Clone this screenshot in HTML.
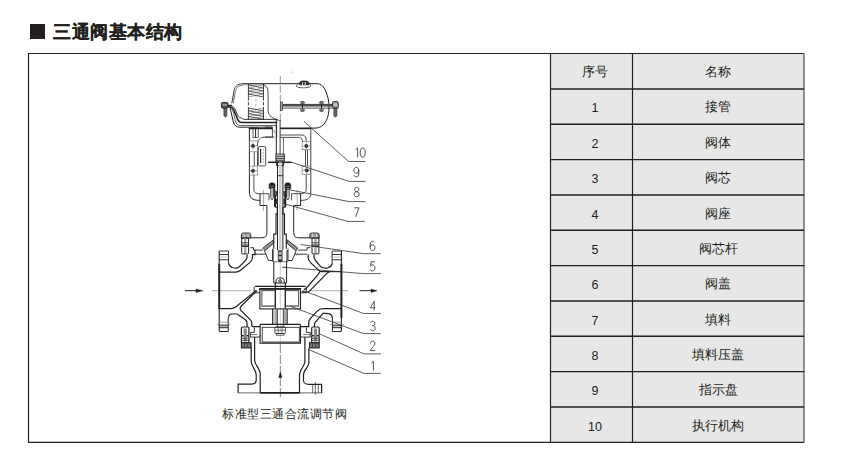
<!DOCTYPE html>
<html><head><meta charset="utf-8">
<style>
html,body{margin:0;padding:0;background:#fff;width:845px;height:475px;overflow:hidden;font-family:"Liberation Sans",sans-serif;}
.t{position:absolute;white-space:nowrap;color:#231f20;}
#title{left:53px;top:20px;font-size:18px;font-weight:bold;-webkit-text-stroke:0.2px #231f20;letter-spacing:0.55px;}
#sq{position:absolute;left:30px;top:24px;width:15px;height:15px;background:#231f20;}
.c1,.c2{position:absolute;font-size:13px;color:#231f20;text-align:center;line-height:35px;margin-top:1px;}
.n{font-size:12.5px;margin-top:2.5px;}
.c1{left:555px;width:80px;}
.c2{left:632px;width:172px;}
svg{position:absolute;left:0;top:0;}
</style></head><body>
<div id="sq"></div>
<div class="t" id="title">三通阀基本结构</div>
<svg width="845" height="475" viewBox="0 0 845 475">
  <rect x="551" y="54" width="253" height="388" fill="#e7e7e7"/>
  <g stroke="#231f20" stroke-width="1.2" fill="none">
    <path d="M804 442.3 H28.5 V53.5 H804"/>
    <path d="M804 53.5 V442.3" stroke="#6e6e6e" stroke-width="1.5"/>
    <path d="M550.5 53.5 V442.5 M632.5 53.5 V442.5"/>
    <path d="M550.5 88.94 H804 M550.5 124.28 H804 M550.5 159.62 H804 M550.5 194.96 H804 M550.5 230.3 H804 M550.5 265.64 H804 M550.5 300.98 H804 M550.5 336.32 H804 M550.5 371.66 H804 M550.5 407.0 H804" stroke-width="1.4"/>
  </g>
</svg>
<div class="c1" style="top:53px">序号</div><div class="c2" style="top:53px">名称</div>
<div class="c1 n" style="top:88px">1</div><div class="c2" style="top:88px">接管</div>
<div class="c1 n" style="top:124px">2</div><div class="c2" style="top:124px">阀体</div>
<div class="c1 n" style="top:159px">3</div><div class="c2" style="top:159px">阀芯</div>
<div class="c1 n" style="top:195px">4</div><div class="c2" style="top:195px">阀座</div>
<div class="c1 n" style="top:230px">5</div><div class="c2" style="top:230px">阀芯杆</div>
<div class="c1 n" style="top:265px">6</div><div class="c2" style="top:265px">阀盖</div>
<div class="c1 n" style="top:301px">7</div><div class="c2" style="top:301px">填料</div>
<div class="c1 n" style="top:336px">8</div><div class="c2" style="top:336px">填料压盖</div>
<div class="c1 n" style="top:371px">9</div><div class="c2" style="top:371px">指示盘</div>
<div class="c1 n" style="top:407px">10</div><div class="c2" style="top:407px">执行机构</div>
<div class="t" style="left:222px;top:406px;font-size:12px;letter-spacing:0.55px;">标准型三通合流调节阀</div>
<!--DG--><svg id="dg" width="845" height="475" viewBox="0 0 845 475" style="font-family:'Liberation Sans',sans-serif">
<line x1="280.3" y1="76" x2="280.3" y2="121" stroke="#666" stroke-width="0.7" stroke-dasharray="7 2.5"/>
<line x1="212" y1="290.6" x2="251" y2="290.6" stroke="#bdbdbd" stroke-width="1.1" />
<line x1="309" y1="290.6" x2="348" y2="290.6" stroke="#bdbdbd" stroke-width="1.1" />
<line x1="280.3" y1="262" x2="280.3" y2="345" stroke="#aaa" stroke-width="0.6" />
<line x1="280.3" y1="344" x2="280.3" y2="398" stroke="#666" stroke-width="0.8" stroke-dasharray="9 2"/>
<circle cx="291.3" cy="72" r="0.5" fill="#888"/>
<line x1="185" y1="290.7" x2="198" y2="290.7" stroke="#231f20" stroke-width="1.0" />
<path d="M196 288.9 L203 290.7 L196 292.5 Z" stroke="#231f20" stroke-width="0.4" fill="#231f20" />
<line x1="359.5" y1="290.7" x2="372" y2="290.7" stroke="#231f20" stroke-width="1.0" />
<path d="M371 288.9 L377 290.7 L371 292.5 Z" stroke="#231f20" stroke-width="0.4" fill="#231f20" />
<path d="M278.6 377.5 L280.3 372 L282.0 377.5 Z" stroke="#231f20" stroke-width="0.4" fill="#231f20" />
<path d="M242.8 83.7 H317.8 C323.5 84 326.8 92 328.4 100 C329.2 105 329.3 110 328 116 C326.2 123 322 128.1 315 128.1 H280.3" stroke="#231f20" stroke-width="1.0" fill="none" />
<path d="M242.8 84.8 H263.5" stroke="#666" stroke-width="0.6" fill="none" />
<path d="M242.8 83.7 C237 84 234.3 87 233.8 92 L231.8 103.3" stroke="#231f20" stroke-width="0.9" fill="none" />
<path d="M243 85.1 C238.5 85.5 235.8 88 235.2 92.5 L233.3 103.3" stroke="#231f20" stroke-width="0.6" fill="none" />
<path d="M221 105.4 H232" stroke="#231f20" stroke-width="1.2" fill="none" />
<rect x="221.4" y="102.4" width="6.6" height="5.8" rx="1.2" stroke="#231f20" stroke-width="0.9" fill="#555"/>
<path d="M222.3 104.9 H227" stroke="#ddd" stroke-width="0.8" fill="none" />
<path d="M223.9 108.2 V115.8 L225.4 117.3 L226.9 115.8 V108.2 Z" stroke="#231f20" stroke-width="0.6" fill="#666" />
<path d="M228 105.5 C231.5 105.5 233.5 106.5 234.8 108.5 L237.3 114.4 C238 116.5 239 117.7 240.3 117.7 C241.5 117.7 242 118.5 243 119 C243.5 119.3 244 119.4 244.5 119.4 H277.3" stroke="#231f20" stroke-width="0.9" fill="none" />
<path d="M228 106.8 C231 107 232.8 108 233.8 110 L236.5 116.5 C237.5 119.8 239 122.6 242 122.6 H277.3" stroke="#231f20" stroke-width="1.5" fill="none" />
<path d="M229.5 107.8 C231.5 108.3 232.3 109.5 233 111 L235.6 121.5 C236.4 124.3 238 125.5 240.3 125.5 H276.6" stroke="#231f20" stroke-width="0.7" fill="none" />
<path d="M230.2 108.5 L233.3 121.8 C234.2 125.5 236.5 127.2 239.4 127.2 H272.4" stroke="#231f20" stroke-width="1.0" fill="none" />
<path d="M248.4 84 V97.5 M263.5 84 V97.5 M248.4 107 V119.5 M263.5 107 V119.5" stroke="#231f20" stroke-width="0.85" fill="none" />
<path d="M248.4 97.5 V107 M263.5 97.5 V107" stroke="#231f20" stroke-width="0.9" fill="none" stroke-dasharray="3 1.8"/>
<path d="M255.9 84 V119" stroke="#999" stroke-width="0.7" fill="none" stroke-dasharray="2.5 2.5"/>
<path d="M248.4 85.0 L263.5 88.0" stroke="#231f20" stroke-width="0.75" fill="none" />
<path d="M248.4 88.0 L263.5 85.0" stroke="#555" stroke-width="0.5" fill="none" />
<path d="M248.4 88.0 L263.5 91.0" stroke="#231f20" stroke-width="0.75" fill="none" />
<path d="M248.4 91.0 L263.5 88.0" stroke="#555" stroke-width="0.5" fill="none" />
<path d="M248.4 91.0 L263.5 94.0" stroke="#231f20" stroke-width="0.75" fill="none" />
<path d="M248.4 94.0 L263.5 91.0" stroke="#555" stroke-width="0.5" fill="none" />
<path d="M248.4 94.0 L263.5 97.0" stroke="#231f20" stroke-width="0.75" fill="none" />
<path d="M248.4 97.0 L263.5 94.0" stroke="#555" stroke-width="0.5" fill="none" />
<path d="M248.4 108.0 L263.5 110.8" stroke="#231f20" stroke-width="0.75" fill="none" />
<path d="M248.4 110.8 L263.5 108.0" stroke="#555" stroke-width="0.5" fill="none" />
<path d="M248.4 110.8 L263.5 113.6" stroke="#231f20" stroke-width="0.75" fill="none" />
<path d="M248.4 113.6 L263.5 110.8" stroke="#555" stroke-width="0.5" fill="none" />
<path d="M248.4 113.6 L263.5 116.39999999999999" stroke="#231f20" stroke-width="0.75" fill="none" />
<path d="M248.4 116.39999999999999 L263.5 113.6" stroke="#555" stroke-width="0.5" fill="none" />
<path d="M248.4 116.4 L263.5 119.2" stroke="#231f20" stroke-width="0.75" fill="none" />
<path d="M248.4 119.2 L263.5 116.4" stroke="#555" stroke-width="0.5" fill="none" />
<path d="M263.5 84.5 C267 86 268.1 89 268.1 93.2 L268.1 110.8 C268.1 114.5 271 117 274 118.5 C276.5 119.6 278 120 279.4 120.8" stroke="#231f20" stroke-width="0.8" fill="none" />
<path d="M272.4 127.1 V137.1 M276.6 125 V137.1 M265 127.1 H272.4 M265 137.1 H272.4" stroke="#231f20" stroke-width="0.8" fill="none" />
<path d="M273.5 130 L275 133" stroke="#231f20" stroke-width="0.5" fill="none" />
<rect x="280.8" y="103.9" width="57.8" height="2.6" rx="0" stroke="#231f20" stroke-width="0" fill="#333"/>
<path d="M280.8 105.1 H338.6" stroke="#999" stroke-width="0.5" fill="none" />
<path d="M280.8 108.1 H338.6" stroke="#231f20" stroke-width="0.8" fill="none" />
<rect x="280.3" y="102" width="2.4" height="8.6" rx="0" stroke="#231f20" stroke-width="0.6" fill="#aaa"/>
<path d="M302.5 101.3 V111.8" stroke="#231f20" stroke-width="0.9" fill="none" />
<ellipse cx="302.5" cy="102.6" rx="2.2" ry="1.3" fill="#777" stroke="#333" stroke-width="0.5"/>
<ellipse cx="302.5" cy="110.3" rx="2.2" ry="1.3" fill="#777" stroke="#333" stroke-width="0.5"/>
<path d="M321.5 101.3 V111.8" stroke="#231f20" stroke-width="0.9" fill="none" />
<ellipse cx="321.5" cy="102.6" rx="2.2" ry="1.3" fill="#777" stroke="#333" stroke-width="0.5"/>
<ellipse cx="321.5" cy="110.3" rx="2.2" ry="1.3" fill="#777" stroke="#333" stroke-width="0.5"/>
<rect x="332.6" y="101.6" width="5.6" height="6.4" rx="1.2" stroke="#231f20" stroke-width="0.9" fill="#aaa"/>
<path d="M333.4 104.9 H337.4" stroke="#ddd" stroke-width="0.8" fill="none" />
<path d="M333.9 108.2 V115.8 L335.4 117.3 L336.9 115.8 V108.2 Z" stroke="#231f20" stroke-width="0.6" fill="#666" />
<path d="M296.2 86.3 C297 84 299 83.5 300.5 83.3 H307.5 C309 83.5 310.5 84.5 310.8 86.3 C309 88.3 298 88.3 296.2 86.3 Z" stroke="#231f20" stroke-width="0.7" fill="#fff" />
<path d="M299.8 84.8 V82.5 C300 81.4 301.5 81 304 81 C306.5 81 308.3 81.4 308.8 82.5 V84.8 Z" stroke="#231f20" stroke-width="0.8" fill="#333" />
<path d="M302.6 82 V85.5 M305.2 82 V85.5" stroke="#fff" stroke-width="0.8" fill="none" />
<rect x="253" y="127.8" width="5.2" height="9.7" rx="0" stroke="#231f20" stroke-width="0.7" fill="none"/>
<path d="M255.6 128 V137.5" stroke="#231f20" stroke-width="1.0" fill="none" />
<path d="M250 127.8 H253" stroke="#231f20" stroke-width="0.7" fill="none" />
<path d="M248.7 128.6 H272.4" stroke="#231f20" stroke-width="1.3" fill="none" />
<path d="M280.3 128.5 H311.2" stroke="#231f20" stroke-width="1.4" fill="none" />
<path d="M249.4 128.4 V193.2 C249.4 197.5 253 200.3 258.2 200.3 H260" stroke="#231f20" stroke-width="1.0" fill="none" />
<path d="M254.3 151.8 V166.1 M257.6 151.8 V166.1" stroke="#231f20" stroke-width="0.8" fill="none" />
<path d="M253.9 175 V189.9 C253.9 192 255.5 193.7 259.6 193.7 H261" stroke="#231f20" stroke-width="0.8" fill="none" />
<path d="M310.8 128.4 V193.2 C310.8 197.5 307.5 200.3 302.7 200.3 H300" stroke="#444" stroke-width="1.0" fill="none" />
<path d="M305.5 149.7 V166 M307.5 149.7 V166" stroke="#231f20" stroke-width="0.8" fill="none" />
<path d="M306.2 175 V189.9 C306.2 192 304.5 193.7 299.8 193.7 H299" stroke="#231f20" stroke-width="0.8" fill="none" />
<path d="M257.6 146 V145 C257.6 140 260 137.1 264.4 137.1 H274.4" stroke="#231f20" stroke-width="0.8" fill="none" />
<path d="M280.3 135 H302.6 C304.8 135 306.3 137.5 306.3 140.8" stroke="#231f20" stroke-width="0.8" fill="none" />
<path d="M280.5 137.4 H299.5 C301.3 137.4 302.6 139.5 302.6 142" stroke="#231f20" stroke-width="0.8" fill="none" />
<rect x="249.4" y="140.9" width="8.200000000000017" height="10.900000000000006" rx="0" stroke="#666" stroke-width="0.6" fill="none"/>
<circle cx="253" cy="145.9" r="1.9" fill="#231f20"/>
<line x1="249" y1="145.9" x2="257" y2="145.9" stroke="#555" stroke-width="0.5" />
<line x1="253" y1="141.9" x2="253" y2="149.9" stroke="#555" stroke-width="0.5" />
<rect x="249.4" y="166.1" width="8.200000000000017" height="8.900000000000006" rx="0" stroke="#666" stroke-width="0.6" fill="none"/>
<circle cx="253" cy="170.8" r="1.9" fill="#231f20"/>
<line x1="249" y1="170.8" x2="257" y2="170.8" stroke="#555" stroke-width="0.5" />
<line x1="253" y1="166.8" x2="253" y2="174.8" stroke="#555" stroke-width="0.5" />
<rect x="302.1" y="141.3" width="8.5" height="8.399999999999977" rx="0" stroke="#666" stroke-width="0.6" fill="none"/>
<circle cx="306.3" cy="146" r="1.9" fill="#231f20"/>
<line x1="302.3" y1="146" x2="310.3" y2="146" stroke="#555" stroke-width="0.5" />
<line x1="306.3" y1="142" x2="306.3" y2="150" stroke="#555" stroke-width="0.5" />
<rect x="302.1" y="166" width="8.5" height="8.599999999999994" rx="0" stroke="#666" stroke-width="0.6" fill="none"/>
<circle cx="306.8" cy="170.3" r="1.9" fill="#231f20"/>
<line x1="302.8" y1="170.3" x2="310.8" y2="170.3" stroke="#555" stroke-width="0.5" />
<line x1="306.8" y1="166.3" x2="306.8" y2="174.3" stroke="#555" stroke-width="0.5" />
<rect x="258.2" y="146.5" width="7.5" height="19.4" rx="1.5" stroke="#231f20" stroke-width="0.8" fill="none"/>
<path d="M260.6 149 V163" stroke="#231f20" stroke-width="1.1" fill="none" />
<path d="M262.6 150 H264.2 M262.6 153 H264.2 M262.6 156 H264.2 M262.6 159 H264.2 M262.6 162 H264.2" stroke="#231f20" stroke-width="0.5" fill="none" />
<path d="M276.3 120 V154" stroke="#231f20" stroke-width="1.0" fill="none" />
<path d="M280.1 120 V154" stroke="#231f20" stroke-width="0.9" fill="none" />
<path d="M283.4 137.4 V154" stroke="#555" stroke-width="0.9" fill="none" />
<rect x="275.9" y="154.1" width="8.4" height="7.9" rx="0" stroke="#231f20" stroke-width="0.9" fill="#eee"/>
<path d="M275.9 156.2 H284.3 M275.9 158.3 H284.3 M275.9 160.2 H284.3" stroke="#231f20" stroke-width="1.0" fill="none" />
<path d="M276.4 162.3 V165.6 H283.6 V162.3" stroke="#231f20" stroke-width="0.9" fill="none" />
<path d="M268.1 162.3 H291.8" stroke="#231f20" stroke-width="1.5" fill="none" />
<path d="M277.5 162.3 V250 M282.9 162.3 V250" stroke="#231f20" stroke-width="1.0" fill="none" />
<path d="M280.2 162.3 V250" stroke="#d0d0d0" stroke-width="2.6" fill="none" />
<path d="M277.1 175.7 H283.3" stroke="#231f20" stroke-width="0.9" fill="none" />
<path d="M269.1 188.5 V185 C269.1 183.6 270.3 182.8 272.05 182.8 C273.8 182.8 275.0 183.6 275.0 185 V188.5 Z" stroke="#231f20" stroke-width="0.6" fill="#222" />
<path d="M269.90000000000003 186.3 H274.20000000000005" stroke="#999" stroke-width="0.6" fill="none" />
<path d="M270.70000000000005 188.5 V197.5 L272.05 199.9 L273.40000000000003 197.5 V188.5" stroke="#231f20" stroke-width="0.8" fill="#eee" />
<path d="M272.05 189 V197" stroke="#888" stroke-width="0.8" fill="none" />
<path d="M284.9 188.5 V185 C284.9 183.6 286.09999999999997 182.8 287.84999999999997 182.8 C289.59999999999997 182.8 290.79999999999995 183.6 290.79999999999995 185 V188.5 Z" stroke="#231f20" stroke-width="0.6" fill="#222" />
<path d="M285.7 186.3 H290.0" stroke="#999" stroke-width="0.6" fill="none" />
<path d="M286.5 188.5 V197.5 L287.84999999999997 199.9 L289.2 197.5 V188.5" stroke="#231f20" stroke-width="0.8" fill="#eee" />
<path d="M287.84999999999997 189 V197" stroke="#888" stroke-width="0.8" fill="none" />
<path d="M274.7 189 V207 M285.6 189 V207" stroke="#231f20" stroke-width="1.3" fill="none" />
<rect x="275.3" y="191" width="2" height="5" rx="0" stroke="#231f20" stroke-width="0" fill="#444"/>
<rect x="283.3" y="191" width="2" height="5" rx="0" stroke="#231f20" stroke-width="0" fill="#444"/>
<rect x="275.3" y="199" width="2" height="5" rx="0" stroke="#231f20" stroke-width="0" fill="#444"/>
<rect x="283.3" y="199" width="2" height="5" rx="0" stroke="#231f20" stroke-width="0" fill="#444"/>
<path d="M260 193.7 V205.5 H266.9 V232.5 C266.9 235.8 265.5 237.8 262 237.8 H250.3" stroke="#231f20" stroke-width="1.0" fill="none" />
<path d="M261 193.7 H269 V200.3" stroke="#231f20" stroke-width="0.8" fill="none" />
<path d="M300.6 193.7 V205.5 H293.7 V232.5 C293.7 235.8 295.1 237.8 298.6 237.8 H310.3" stroke="#231f20" stroke-width="1.0" fill="none" />
<path d="M299.6 193.7 H291.6 V200.3" stroke="#231f20" stroke-width="0.8" fill="none" />
<path d="M263.4 189.9 V210.6" stroke="#555" stroke-width="0.5" fill="none" />
<path d="M297.2 189.9 V210.6" stroke="#555" stroke-width="0.5" fill="none" />
<path d="M275.6 195 V207.2 H277.3 V213.9 H276 V234.1 H273.75 V248.8" stroke="#231f20" stroke-width="1.1" fill="none" />
<path d="M284.9 195 V207.2 H282.9 V213.9 H284.5 V234.1 H286.3 V248.8" stroke="#231f20" stroke-width="1.1" fill="none" />
<path d="M273 250 V262 M287 250 V262" stroke="#231f20" stroke-width="1.0" fill="none" />
<path d="M241.4 238.1 V235 C241.4 233.8 242.20000000000002 233 243.4 233 H248.8 C250.0 233 250.8 233.8 250.8 235 V238.1 Z" stroke="#231f20" stroke-width="0.9" fill="#9a9a9a" />
<path d="M244.20000000000002 233.5 V237.6 M248.0 233.5 V237.6" stroke="#eee" stroke-width="0.8" fill="none" />
<rect x="241.7" y="238.1" width="6.9" height="8.2" rx="0" stroke="#231f20" stroke-width="1.0" fill="none"/>
<rect x="244.0" y="238.6" width="2.4" height="15" rx="0" stroke="#231f20" stroke-width="0" fill="#aaa"/>
<path d="M241.7 242.8 H248.6 M241.7 245 H248.6" stroke="#231f20" stroke-width="0.8" fill="none" />
<rect x="241.7" y="246.3" width="6.9" height="7.6" rx="1" stroke="#231f20" stroke-width="1.0" fill="none"/>
<path d="M309.8 238.1 V235 C309.8 233.8 310.6 233 311.8 233 H317.2 C318.40000000000003 233 319.2 233.8 319.2 235 V238.1 Z" stroke="#231f20" stroke-width="0.9" fill="#9a9a9a" />
<path d="M312.6 233.5 V237.6 M316.40000000000003 233.5 V237.6" stroke="#eee" stroke-width="0.8" fill="none" />
<rect x="312.0" y="238.1" width="6.9" height="8.2" rx="0" stroke="#231f20" stroke-width="1.0" fill="none"/>
<rect x="314.3" y="238.6" width="2.4" height="15" rx="0" stroke="#231f20" stroke-width="0" fill="#aaa"/>
<path d="M312.0 242.8 H318.9 M312.0 245 H318.9" stroke="#231f20" stroke-width="0.8" fill="none" />
<rect x="312.0" y="246.3" width="6.9" height="7.6" rx="1" stroke="#231f20" stroke-width="1.0" fill="none"/>
<path d="M250.3 247.7 H253.6 V250.1 H262.8" stroke="#231f20" stroke-width="0.9" fill="none" />
<path d="M253.6 254.2 H265.9" stroke="#231f20" stroke-width="0.9" fill="none" />
<path d="M264.3 250.4 L268.5 260.5 H272.6 V248.7" stroke="#231f20" stroke-width="0.9" fill="none" />
<path d="M262.8 248.1 L273.4 239.8 L273.4 243.4 L265 250.6 Z" stroke="#231f20" stroke-width="0.8" fill="#bbb" />
<path d="M263.3888888888889 247.63888888888889 L265.3888888888889 250.23888888888888" stroke="#222" stroke-width="0.5" fill="none" />
<path d="M264.56666666666666 246.71666666666667 L266.56666666666666 249.31666666666666" stroke="#222" stroke-width="0.5" fill="none" />
<path d="M265.74444444444447 245.79444444444445 L267.74444444444447 248.39444444444445" stroke="#222" stroke-width="0.5" fill="none" />
<path d="M266.9222222222222 244.8722222222222 L268.9222222222222 247.4722222222222" stroke="#222" stroke-width="0.5" fill="none" />
<path d="M268.1 243.95 L270.1 246.54999999999998" stroke="#222" stroke-width="0.5" fill="none" />
<path d="M269.27777777777777 243.02777777777777 L271.27777777777777 245.62777777777777" stroke="#222" stroke-width="0.5" fill="none" />
<path d="M270.4555555555556 242.10555555555555 L272.4555555555556 244.70555555555555" stroke="#222" stroke-width="0.5" fill="none" />
<path d="M271.6333333333333 241.18333333333334 L273.6333333333333 243.78333333333333" stroke="#222" stroke-width="0.5" fill="none" />
<path d="M272.81111111111113 240.2611111111111 L274.81111111111113 242.8611111111111" stroke="#222" stroke-width="0.5" fill="none" />
<path d="M310.3 247.7 H307.0 V250.1 H297.8" stroke="#231f20" stroke-width="0.9" fill="none" />
<path d="M307.0 254.2 H294.7" stroke="#231f20" stroke-width="0.9" fill="none" />
<path d="M296.3 250.4 L292.1 260.5 H288.0 V248.7" stroke="#231f20" stroke-width="0.9" fill="none" />
<path d="M297.8 248.1 L287.2 239.8 L287.2 243.4 L295.6 250.6 Z" stroke="#231f20" stroke-width="0.8" fill="#bbb" />
<path d="M297.21 247.63888888888889 L295.21 250.23888888888888" stroke="#222" stroke-width="0.5" fill="none" />
<path d="M296.03 246.71666666666667 L294.03 249.31666666666666" stroke="#222" stroke-width="0.5" fill="none" />
<path d="M294.86 245.79444444444445 L292.86 248.39444444444445" stroke="#222" stroke-width="0.5" fill="none" />
<path d="M293.68 244.8722222222222 L291.68 247.4722222222222" stroke="#222" stroke-width="0.5" fill="none" />
<path d="M292.5 243.95 L290.5 246.54999999999998" stroke="#222" stroke-width="0.5" fill="none" />
<path d="M291.32 243.02777777777777 L289.32 245.62777777777777" stroke="#222" stroke-width="0.5" fill="none" />
<path d="M290.14 242.10555555555555 L288.14 244.70555555555555" stroke="#222" stroke-width="0.5" fill="none" />
<path d="M288.97 241.18333333333334 L286.97 243.78333333333333" stroke="#222" stroke-width="0.5" fill="none" />
<path d="M287.79 240.2611111111111 L285.79 242.8611111111111" stroke="#222" stroke-width="0.5" fill="none" />
<path d="M278.3 250 V261 C278.3 262 282.1 262 282.1 261 V250" stroke="#231f20" stroke-width="0.8" fill="#bbb" />
<rect x="278.6" y="250.6" width="3.2" height="1.2" rx="0" stroke="#231f20" stroke-width="0" fill="#231f20"/>
<rect x="278.6" y="254.8" width="3.2" height="1.4" rx="0" stroke="#231f20" stroke-width="0" fill="#231f20"/>
<rect x="278.6" y="259.5" width="3.2" height="1.6" rx="0" stroke="#231f20" stroke-width="0" fill="#231f20"/>
<path d="M273.8 261.7 V283 M286.6 261.7 V283" stroke="#231f20" stroke-width="1.0" fill="none" />
<path d="M273 261.7 H287.6" stroke="#231f20" stroke-width="0.6" fill="none" />
<path d="M276.1 283 V280.5 C276.1 278.5 278 277.9 280.1 277.9 C282.2 277.9 284.1 278.5 284.1 280.5 V283" stroke="#231f20" stroke-width="1.0" fill="none" />
<circle cx="280.1" cy="281" r="1.3" fill="none" stroke="#231f20" stroke-width="0.9"/>
<path d="M273.8 283 H286.6" stroke="#231f20" stroke-width="1.0" fill="none" />
<path d="M282.4 267.2 L287 267.5" stroke="#231f20" stroke-width="0.6" fill="none" />
<path d="M219.2 263.5 V309.2" stroke="#231f20" stroke-width="2.0" fill="none" />
<path d="M219.2 251 V263.5 M219.2 309.2 V331" stroke="#231f20" stroke-width="1.1" fill="none" />
<path d="M219.2 251 H228.5 V262.6 M219.2 254.5 H228.5 M219.2 259.8 H228.5" stroke="#231f20" stroke-width="0.9" fill="none" />
<path d="M217 257 H230.5" stroke="#888" stroke-width="0.5" fill="none" />
<path d="M219.2 331.5 H228.2 V317.6 M219.2 325.8 H228.2 M219.2 327.7 H228.2" stroke="#231f20" stroke-width="1.0" fill="none" />
<path d="M219.2 322.1 H228.2" stroke="#888" stroke-width="0.8" fill="none" />
<path d="M217 324.4 H230.5" stroke="#666" stroke-width="0.6" fill="none" />
<path d="M341.4 263.5 V318" stroke="#231f20" stroke-width="2.0" fill="none" />
<path d="M341.4 251 V263.5 M341.4 318 V331" stroke="#231f20" stroke-width="1.1" fill="none" />
<path d="M341.4 251 H332.1 V262.6 M341.4 254.5 H332.1 M341.4 259.8 H332.1" stroke="#231f20" stroke-width="0.9" fill="none" />
<path d="M343.6 257 H330.1" stroke="#888" stroke-width="0.5" fill="none" />
<path d="M341.4 331.5 H332.4 V317.6 M341.4 325.8 H332.4 M341.4 327.7 H332.4" stroke="#231f20" stroke-width="1.0" fill="none" />
<path d="M341.4 322.1 H332.4" stroke="#888" stroke-width="0.8" fill="none" />
<path d="M343.6 324.4 H330.1" stroke="#666" stroke-width="0.6" fill="none" />
<path d="M228.5 262.6 C228.8 265.5 231 267 233 267.8 C235.5 268.6 237.5 268.2 239.2 266.8 L245.5 260.5 C246.8 259.2 247.1 258 247.1 256.8 V254.8" stroke="#231f20" stroke-width="1.2" fill="none" />
<path d="M219.2 272.1 H236 C238 272.1 239 271.5 240.3 270.5 L250.3 262.1 C251.5 261 252.4 259.5 252.4 257.5 V254.7 H255 V250.1" stroke="#231f20" stroke-width="1.2" fill="none" />
<path d="M332.4 262.6 C332.2 265.5 330 267 328 267.8 C325 268.6 322.5 268 320.8 266.8 L315.5 260.5 C314.5 259.2 314 258 314 256.8 V254.8" stroke="#231f20" stroke-width="1.2" fill="none" />
<path d="M308.2 254.2 V257.5 C308.2 259.7 309.3 261.3 310.6 262.6 L316 267.9 C317.5 269.4 318.5 270.2 320 270.7" stroke="#231f20" stroke-width="1.2" fill="none" />
<path d="M320 271.6 H341.3" stroke="#231f20" stroke-width="1.2" fill="none" />
<path d="M319.8 271.2 C319.4 272.5 318.8 273.5 318 274.6 L306.5 288 C305.5 289 304.5 289.4 303.9 289.4" stroke="#231f20" stroke-width="1.2" fill="none" />
<path d="M329.7 271.6 C328.5 272 327.5 272.6 326.6 273.7 L309.5 291.2 C308.5 292.2 307 292.5 305.6 292.5 L301.8 291.2" stroke="#231f20" stroke-width="1.2" fill="none" />
<path d="M219.2 308.7 H230.8 C233 308.7 234.5 308 236 306.8 L256 290.5 L257.1 291.6" stroke="#231f20" stroke-width="1.2" fill="none" />
<path d="M252.4 295 L241.3 306 C240.2 307.2 240 308.5 240.3 309.5 C240.6 310.3 241 310.8 241.8 311.3 L250.8 320.3 C251.5 321 251.8 322 251.8 323 V325.5 C252 326.3 252.8 326.6 254 326.6 H260.2" stroke="#231f20" stroke-width="1.2" fill="none" />
<path d="M252.4 295 L256 291.6" stroke="#231f20" stroke-width="1.2" fill="none" />
<path d="M228.5 317.6 C228.7 315.5 230 314 231.8 314 H237.1 L245.5 319.7 C246.5 320.6 247.1 321.8 247.1 323.4 V327" stroke="#231f20" stroke-width="1.2" fill="none" />
<path d="M341.3 308.7 H322.4 C320 308.7 318.5 309.8 317 311.3 L310 318.8 C309 320 308.7 321.5 308.7 323.4 V326.6 H299.8" stroke="#231f20" stroke-width="1.2" fill="none" />
<path d="M332.4 318.2 C332.3 315.8 330.8 314 328.5 313.6 C327.5 313.4 326.5 313.4 325.5 313.4 H322.9 L315 322.5 C314.6 323.2 314.5 324.5 314.5 325.5 V327" stroke="#231f20" stroke-width="1.2" fill="none" />
<path d="M255.5 286.4 H304.8" stroke="#231f20" stroke-width="1.2" fill="none" />
<path d="M259.5 286.4 H255.5 C254.6 286.4 254.2 287 254.2 288 V291.3 C254.2 292.3 254.8 292.8 255.8 292.8 H259.7" stroke="#231f20" stroke-width="0.9" fill="none" />
<path d="M301.1 286.4 H305.1 C306.0 286.4 306.4 287 306.4 288 V291.3 C306.4 292.3 305.8 292.8 304.8 292.8 H300.9" stroke="#231f20" stroke-width="0.9" fill="none" />
<path d="M259.3 288.9 H300.9" stroke="#231f20" stroke-width="1.9" fill="none" />
<rect x="259.9" y="288.9" width="40.6" height="20.0" rx="0" stroke="#231f20" stroke-width="1.1" fill="none"/>
<rect x="261.9" y="290.7" width="13.4" height="15.5" rx="0" stroke="#231f20" stroke-width="0.8" fill="none"/>
<rect x="285.3" y="290.7" width="13.4" height="15.5" rx="0" stroke="#231f20" stroke-width="0.8" fill="none"/>
<path d="M261.9 305.6 H275.3 M285.3 305.6 H298.7" stroke="#999" stroke-width="1.2" fill="none" />
<path d="M275.3 283 V308.9 M285.3 283 V308.9" stroke="#231f20" stroke-width="1.2" fill="none" />
<path d="M272.7 308.9 V324.4 M287.1 308.9 V324.4" stroke="#231f20" stroke-width="1.2" fill="none" />
<rect x="274.4" y="309.2" width="3.0" height="15" rx="0" stroke="#231f20" stroke-width="0" fill="#aaa"/>
<rect x="283.3" y="309.2" width="2.8" height="15" rx="0" stroke="#231f20" stroke-width="0" fill="#aaa"/>
<path d="M277.4 308.9 V326.9 M283.3 308.9 V326.9" stroke="#231f20" stroke-width="0.8" fill="none" />
<path d="M260.1 324.4 H300.5" stroke="#231f20" stroke-width="1.3" fill="none" />
<path d="M260.1 324.4 V343.2 H300.5 V324.4" stroke="#231f20" stroke-width="1.1" fill="none" />
<rect x="262.2" y="327.3" width="37.1" height="15.2" rx="0" stroke="#231f20" stroke-width="0.8" fill="none"/>
<path d="M262.2 341.8 H299.3" stroke="#888" stroke-width="1.0" fill="none" />
<rect x="274.9" y="326.9" width="10.5" height="6.7" rx="1.2" stroke="#231f20" stroke-width="0.8" fill="none"/>
<path d="M274.9 330.2 H285.4 M278.2 326.9 V333.6 M282.1 326.9 V333.6" stroke="#231f20" stroke-width="0.6" fill="none" />
<rect x="276.5" y="333.6" width="7.5" height="1.6" rx="0" stroke="#231f20" stroke-width="0.6" fill="none"/>
<path d="M254.3 327.4 V332.4 H250.4 V337.1 H259 L260.6 335" stroke="#231f20" stroke-width="0.9" fill="none" />
<path d="M250.4 334.6 H257.5" stroke="#231f20" stroke-width="0.6" fill="none" />
<path d="M306.3 327.4 V332.4 H310.2 V337.1 H301.6 L300.0 335" stroke="#231f20" stroke-width="0.9" fill="none" />
<path d="M310.2 334.6 H303.1" stroke="#231f20" stroke-width="0.6" fill="none" />
<rect x="241.4" y="327" width="7.5" height="8.6" rx="1.2" stroke="#231f20" stroke-width="1.2" fill="none"/>
<rect x="241.4" y="335.6" width="7.5" height="7.2" rx="1.0" stroke="#231f20" stroke-width="1.2" fill="none"/>
<rect x="243.6" y="328.5" width="3.2" height="13" rx="0" stroke="#231f20" stroke-width="0" fill="#888"/>
<path d="M241.4 338.2 H248.9 M241.4 340.3 H248.9" stroke="#333" stroke-width="0.8" fill="none" />
<rect x="241.4" y="342.8" width="9.7" height="5.1" rx="0" stroke="#231f20" stroke-width="1.1" fill="#777"/>
<path d="M244.4 343 V347.7 M247.70000000000002 343 V347.7" stroke="#333" stroke-width="0.7" fill="none" />
<rect x="311.7" y="327" width="7.5" height="8.6" rx="1.2" stroke="#231f20" stroke-width="1.2" fill="none"/>
<rect x="311.7" y="335.6" width="7.5" height="7.2" rx="1.0" stroke="#231f20" stroke-width="1.2" fill="none"/>
<rect x="313.9" y="328.5" width="3.2" height="13" rx="0" stroke="#231f20" stroke-width="0" fill="#888"/>
<path d="M311.7 338.2 H319.2 M311.7 340.3 H319.2" stroke="#333" stroke-width="0.8" fill="none" />
<rect x="309.5" y="342.8" width="9.7" height="5.1" rx="0" stroke="#231f20" stroke-width="1.1" fill="#777"/>
<path d="M312.5 343 V347.7 M315.8 343 V347.7" stroke="#333" stroke-width="0.7" fill="none" />
<path d="M251.2 347.6 V361.6 C251.2 366 256.2 370 256.2 375 V380.1 C256.2 382.5 254.5 384.2 251.4 384.2 H238.1 V392.9" stroke="#231f20" stroke-width="1.2" fill="none" />
<path d="M238.1 392.9 H260.2" stroke="#555" stroke-width="0.9" fill="none" />
<path d="M260.2 392.9 H299.5" stroke="#231f20" stroke-width="1.8" fill="none" />
<path d="M299.5 392.9 H321.6" stroke="#555" stroke-width="0.9" fill="none" />
<path d="M321.6 392.9 V384.3 H308.3 C305.5 384.3 303.5 382.5 303.5 380.5 V374.6 C303.6 370 308.9 366.5 308.9 362.9 V348.3" stroke="#231f20" stroke-width="1.2" fill="none" />
<path d="M254.6 337.2 V360.2 C254.6 365 260.2 368.5 260.2 373.8 V392.9" stroke="#231f20" stroke-width="1.2" fill="none" />
<path d="M304.9 337.2 V361.6 C304.9 366 299.5 369.5 299.5 375.3 V392.9" stroke="#231f20" stroke-width="1.2" fill="none" />
<path d="M312.7 384.3 V392.9 M318.3 384.3 V392.9" stroke="#231f20" stroke-width="0.7" fill="none" />
<path d="M315.3 382.3 V394.5" stroke="#231f20" stroke-width="0.7" fill="none" />
<path d="M303.9 121.4 L348.6 161.5 H365.3" stroke="#333" stroke-width="0.8" fill="none" />
<path d="M291.8 162.3 L349 181.4 H365.4" stroke="#333" stroke-width="0.8" fill="none" />
<path d="M284.5 188.8 L349 201.6 H365.4" stroke="#333" stroke-width="0.8" fill="none" />
<path d="M283.4 203.6 L347.8 221.4 H364.9" stroke="#333" stroke-width="0.8" fill="none" />
<path d="M300.8 244.5 L363.8 253.7 H380.8" stroke="#333" stroke-width="0.8" fill="none" />
<path d="M282.7 267.2 L363.8 273.6 H380.8" stroke="#333" stroke-width="0.8" fill="none" />
<path d="M303.1 290.5 L363.5 313.5 H380.8" stroke="#333" stroke-width="0.8" fill="none" />
<path d="M290.5 306.3 L363.5 333.6 H380.8" stroke="#333" stroke-width="0.8" fill="none" />
<path d="M318.9 333.6 L364 353.9 H380.8" stroke="#333" stroke-width="0.8" fill="none" />
<path d="M308.4 349.4 L364 373.4 H380.8" stroke="#333" stroke-width="0.8" fill="none" />
<path transform="translate(354.4,147.9)" d="M1.2 1.8 L3.2 0 V9.4" stroke="#333" stroke-width="0.85" fill="none"/>
<path transform="translate(360.2,147.9)" d="M2.5 0 C4.2 0 5 2 5 4.7 C5 7.4 4.2 9.4 2.5 9.4 C0.8 9.4 0 7.4 0 4.7 C0 2 0.8 0 2.5 0 Z" stroke="#333" stroke-width="0.85" fill="none"/>
<path transform="translate(353.8,167.4)" d="M5 3 C5 1.2 4 0 2.5 0 C1 0 0 1.2 0 3 C0 4.8 1 5.8 2.5 5.8 C4 5.8 5 4.8 5 3 V6.5 C5 8.5 4 9.4 2.5 9.4 C1.3 9.4 0.5 8.8 0.2 7.8" stroke="#333" stroke-width="0.85" fill="none"/>
<path transform="translate(354.2,187.3)" d="M2.5 0 C1 0 0.4 1 0.4 2.3 C0.4 3.6 1.3 4.4 2.5 4.4 C3.7 4.4 4.6 3.6 4.6 2.3 C4.6 1 4 0 2.5 0 Z M2.5 4.4 C1 4.4 0 5.4 0 6.9 C0 8.4 1 9.4 2.5 9.4 C4 9.4 5 8.4 5 6.9 C5 5.4 4 4.4 2.5 4.4 Z" stroke="#333" stroke-width="0.85" fill="none"/>
<path transform="translate(354.0,207.5)" d="M0.3 0.3 H5 L1.6 9.4" stroke="#333" stroke-width="0.85" fill="none"/>
<path transform="translate(370.0,241.2)" d="M4.6 1.2 C4.2 0.4 3.4 0 2.5 0 C0.9 0 0 2 0 5 C0 8 1 9.4 2.5 9.4 C4 9.4 5 8.2 5 6.5 C5 4.8 4 3.7 2.5 3.7 C1.2 3.7 0.3 4.5 0 5.8" stroke="#333" stroke-width="0.85" fill="none"/>
<path transform="translate(370.0,261.5)" d="M4.8 0.3 H1 L0.6 4.2 C1.2 3.6 1.8 3.4 2.6 3.4 C4 3.4 5 4.6 5 6.4 C5 8.2 4 9.4 2.5 9.4 C1.3 9.4 0.4 8.7 0.1 7.7" stroke="#333" stroke-width="0.85" fill="none"/>
<path transform="translate(370.4,301.2)" d="M3.8 9.4 V0 L0 6.6 H5" stroke="#333" stroke-width="0.85" fill="none"/>
<path transform="translate(370.2,321.3)" d="M0.3 1.3 C0.7 0.4 1.5 0 2.5 0 C3.8 0 4.7 1 4.7 2.3 C4.7 3.6 3.8 4.4 2.3 4.4 C4 4.4 5 5.5 5 6.9 C5 8.4 4 9.4 2.5 9.4 C1.4 9.4 0.5 8.9 0.1 7.9" stroke="#333" stroke-width="0.85" fill="none"/>
<path transform="translate(370.2,341.2)" d="M0.3 2.2 C0.4 0.8 1.4 0 2.5 0 C3.8 0 4.8 1 4.8 2.4 C4.8 3.5 4.2 4.3 3.2 5.3 L0 9.4 H5" stroke="#333" stroke-width="0.85" fill="none"/>
<path transform="translate(370.2,361.3)" d="M1.2 1.8 L3.2 0 V9.4" stroke="#333" stroke-width="0.85" fill="none"/>
</svg><!--/DG-->
</body></html>
